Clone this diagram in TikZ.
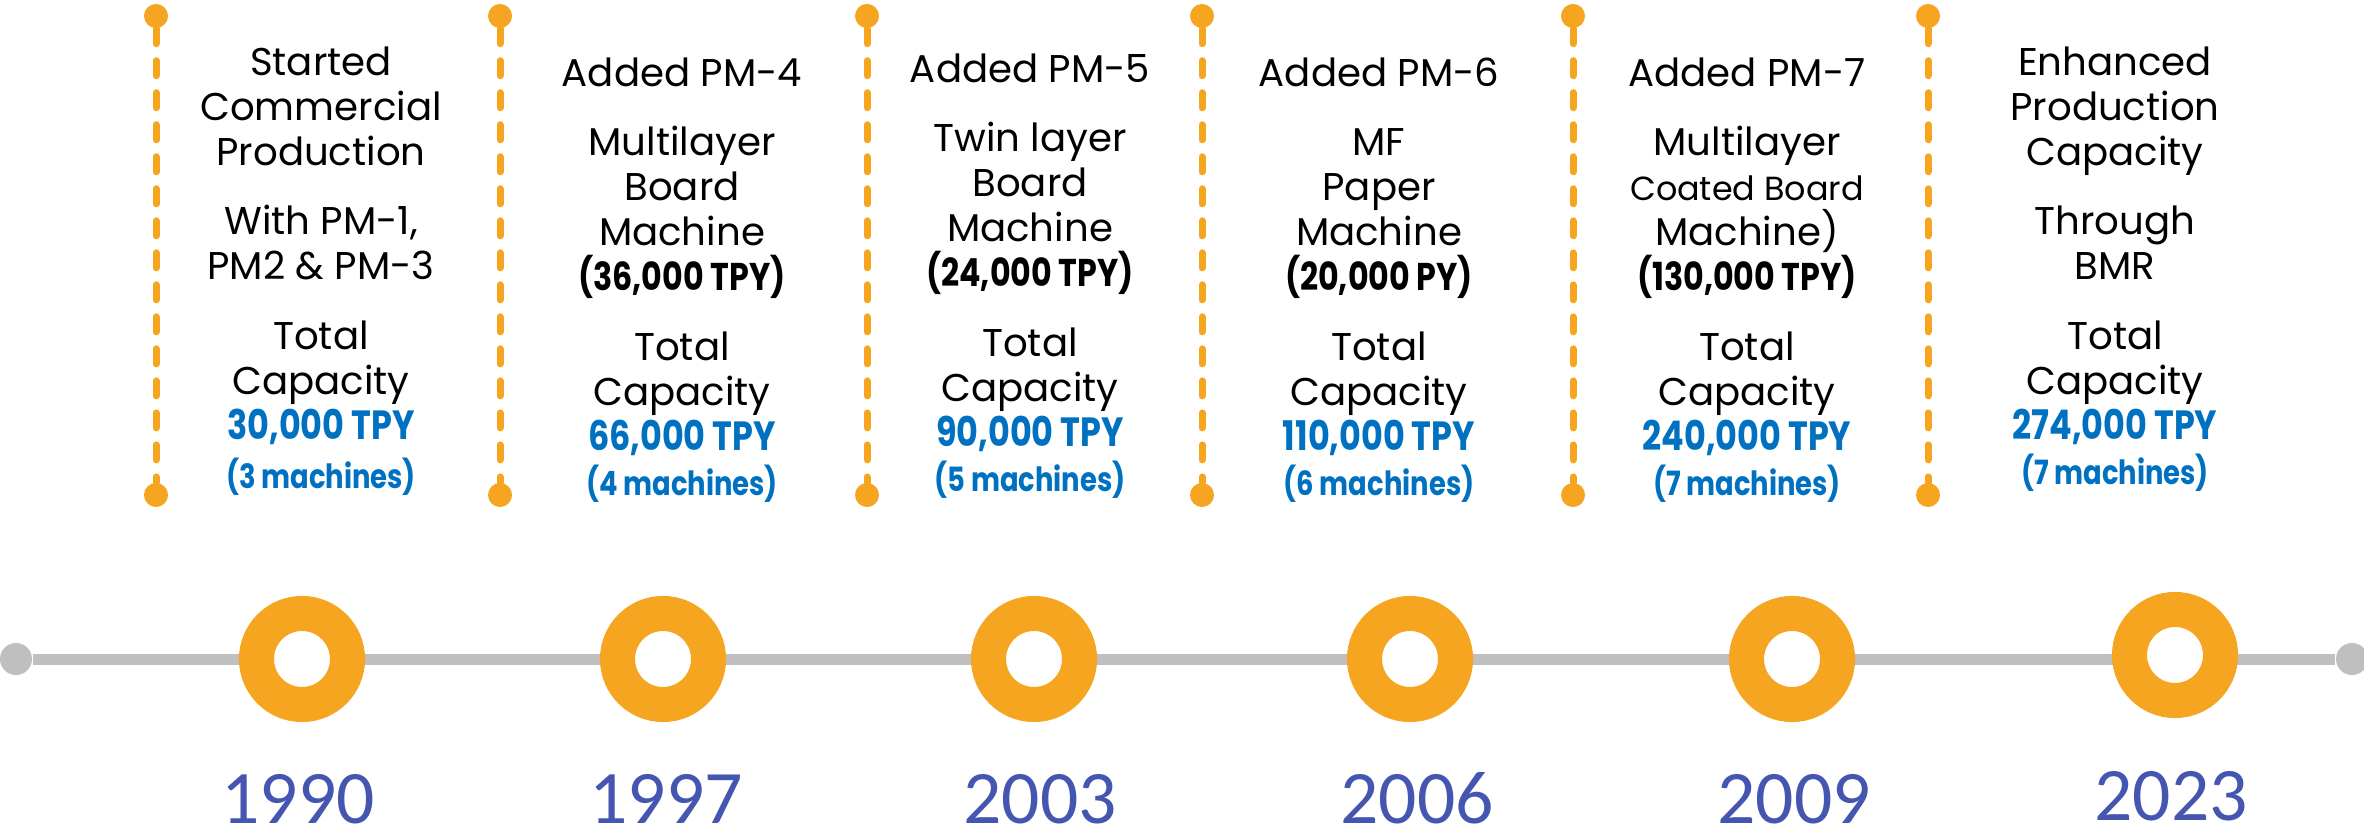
\documentclass[tikz,border=0pt]{standalone}
\usepackage{fontspec}
\setmainfont{Poppins}
\newfontfamily\condfont[FakeStretch=0.82]{Poppins}
\newfontfamily\yearfont{Carlito}
\usetikzlibrary{positioning}

\definecolor{ringorange}{RGB}{245,165,32}
\definecolor{linegray}{RGB}{191,191,191}
\definecolor{capblue}{RGB}{0,112,192}
\definecolor{yearblue}{RGB}{68,86,176}

\newcommand{\capval}[1]{{\condfont\bfseries\fontsize{11.6}{12.8}\selectfont\color{capblue}#1}}
\newcommand{\machval}[1]{{\condfont\bfseries\fontsize{9.5}{12.8}\selectfont\color{capblue}#1}}
\newcommand{\addval}[1]{{\condfont\bfseries #1}}

\begin{document}
\begin{tikzpicture}[x=0.01cm, y=-0.01cm,
    tlring/.style={circle, draw=ringorange, line width=0.35cm, fill=white, minimum size=0.91cm, inner sep=0pt},
    enddot/.style={circle, fill=linegray, minimum size=0.32cm, inner sep=0pt},
    bead/.style={circle, fill=ringorange, minimum size=0.24cm, inner sep=0pt},
    markline/.style={draw=ringorange, line width=0.07cm, line cap=round, dash pattern=on 0.15cm off 0.17cm},
    info/.style={anchor=north, align=center, inner sep=0pt, font=\fontsize{11}{12.8}\selectfont},
    year/.style={anchor=base, text=yearblue, font=\yearfont\fontsize{21.5}{24}\selectfont}]

    \useasboundingbox (0,0) rectangle (2364,837);

    % Timeline
    \node (start) at (16,659) [enddot] {};
    \node (end) at (2352,659) [enddot] {};
    \draw [draw=linegray, line width=0.11cm] (start) -- (end);

    % Rings
    \node (r1) at (302,659) [tlring] {};
    \node (r2) at (663,659) [tlring] {};
    \node (r3) at (1034,659) [tlring] {};
    \node (r4) at (1410,659) [tlring] {};
    \node (r5) at (1792,659) [tlring] {};
    \node (r6) at (2175,655) [tlring] {};

    % Years
    \node (y1) at (298,823) [year] {1990};
    \node (y2) at (666,823) [year] {1997};
    \node (y3) at (1040,823) [year] {2003};
    \node (y4) at (1417,823) [year] {2006};
    \node (y5) at (1794,823) [year] {2009};
    \node (y6) at (2171,820) [year] {2023};

    % Dashed markers
    \foreach \i/\x in {1/156, 2/500, 3/867, 4/1202, 5/1573, 6/1928} {
        \node (top\i) at (\x,16) [bead] {};
        \node (bot\i) at (\x,495) [bead] {};
        \draw [markline] (top\i) -- (bot\i);
    }

    % Texts
    \node (t1) at (321,46) [info] {Started\\Commercial\\Production\\[7pt]With PM-1,\\PM2 \& PM-3\\[7pt]Total\\Capacity\\\capval{30,000 TPY}\\[1.2pt]\machval{(3 machines)}};
    \node (t2) at (682,57) [info] {Added PM-4\\[7pt]Multilayer\\Board\\Machine\\\addval{(36,000 TPY)}\\[7pt]Total\\Capacity\\\capval{66,000 TPY}\\\machval{(4 machines)}};
    \node (t3) at (1030,53) [info] {Added PM-5\\[7pt]Twin layer\\Board\\Machine\\\addval{(24,000 TPY)}\\[7pt]Total\\Capacity\\\capval{90,000 TPY}\\\machval{(5 machines)}};
    \node (t4) at (1379,57) [info] {Added PM-6\\[7pt]MF\\Paper\\Machine\\\addval{(20,000 PY)}\\[7pt]Total\\Capacity\\\capval{110,000 TPY}\\\machval{(6 machines)}};
    \node (t5) at (1747,57) [info] {Added PM-7\\[7pt]Multilayer\\{\fontsize{9.5}{12}\selectfont Coated Board}\\Machine)\\\addval{(130,000 TPY)}\\[7pt]Total\\Capacity\\\capval{240,000 TPY}\\\machval{(7 machines)}};
    \node (t6) at (2115,46) [info] {Enhanced\\Production\\Capacity\\[7pt]Through\\BMR\\[7pt]Total\\Capacity\\\capval{274,000 TPY}\\\machval{(7 machines)}};

\end{tikzpicture}
\end{document}
